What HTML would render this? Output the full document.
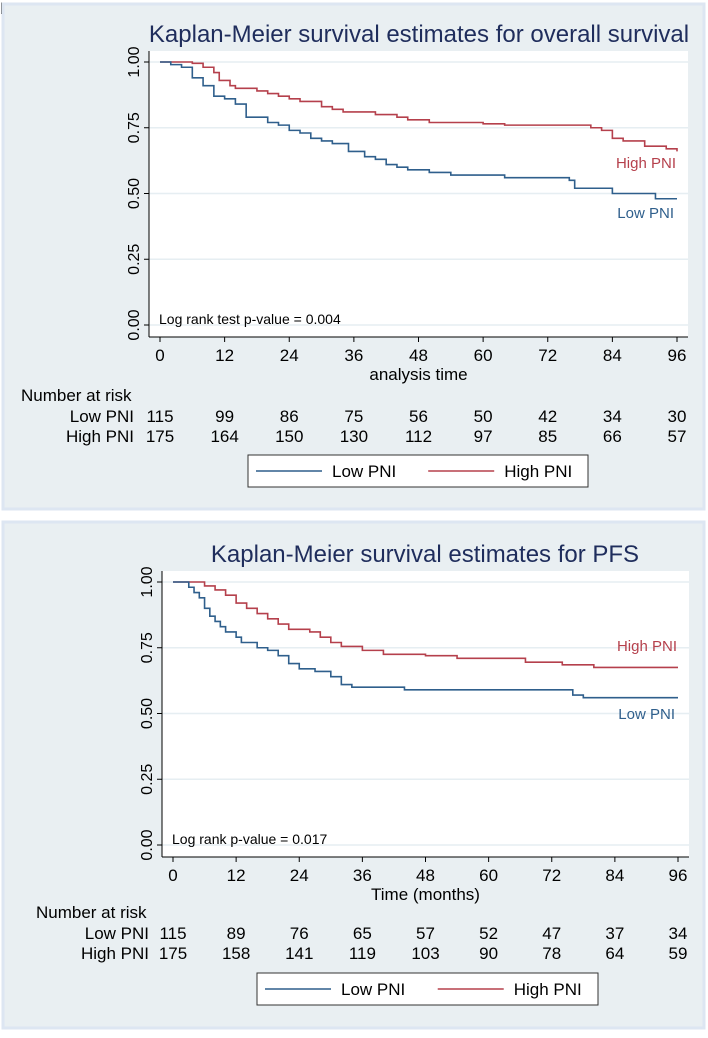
<!DOCTYPE html>
<html><head><meta charset="utf-8"><style>
body{margin:0;background:#fff;width:708px;height:1033px;overflow:hidden;font-family:"Liberation Sans",sans-serif;}
svg text{font-family:"Liberation Sans",sans-serif;}
</style></head><body>
<svg id="s" width="708" height="1033" viewBox="0 0 708 1033" xmlns="http://www.w3.org/2000/svg">
<text x="0" y="14" font-size="16" font-weight="bold" fill="#000">b</text>
</svg>
<script>
const ticksX=[0,12,24,36,48,60,72,84,96];
const ticksY=[0,0.25,0.5,0.75,1];
const osLowT=[0,2,4,6,8,10,12,14,16,20,22,24,26,28,30,32,35,38,40,42,44,46,50,54,64,76,77,84,92,96];
const osLowS=[1,0.99,0.98,0.94,0.91,0.87,0.86,0.84,0.79,0.77,0.76,0.74,0.73,0.71,0.70,0.69,0.66,0.64,0.63,0.61,0.60,0.59,0.58,0.57,0.56,0.55,0.52,0.50,0.48,0.48];
const osHighT=[0,6,8,10,11,13,14,18,20,22,24,26,30,32,34,40,44,46,50,60,64,80,82,84,86,90,94,96];
const osHighS=[1,0.995,0.98,0.96,0.93,0.91,0.90,0.89,0.88,0.87,0.86,0.85,0.83,0.82,0.81,0.80,0.79,0.78,0.77,0.765,0.76,0.75,0.74,0.71,0.70,0.68,0.67,0.66];
const pfsLowT=[0,3,4,5,6,7,8,9,10,12,13,16,18,20,22,24,27,30,32,34,44,76,78,96];
const pfsLowS=[1,0.98,0.96,0.94,0.90,0.87,0.85,0.83,0.81,0.79,0.77,0.75,0.74,0.72,0.69,0.67,0.66,0.64,0.61,0.60,0.59,0.57,0.56,0.56];
const pfsHighT=[0,6,8,10,12,14,16,18,20,22,26,28,30,32,36,40,48,54,67,74,80,96];
const pfsHighS=[1,0.985,0.97,0.95,0.92,0.90,0.88,0.86,0.84,0.82,0.81,0.79,0.77,0.755,0.74,0.725,0.72,0.71,0.695,0.685,0.675,0.675];
const osRiskLow=[115,99,86,75,56,50,42,34,30];
const osRiskHigh=[175,164,150,130,112,97,85,66,57];
const pfsRiskLow=[115,89,76,65,57,52,47,37,34];
const pfsRiskHigh=[175,158,141,119,103,90,78,64,59];
const NS="http://www.w3.org/2000/svg";
const svg=document.getElementById('s');
const BLUE="#2f5f8c",RED="#b5404c",NAVY="#1f2d5c";
function el(tag,attrs,parent){const e=document.createElementNS(NS,tag);for(const k in attrs)e.setAttribute(k,attrs[k]);(parent||svg).appendChild(e);return e;}
function txt(x,y,s,size,anchor,fill,parent){const t=el('text',{x:x,y:y,'font-size':size,'text-anchor':anchor||'start',fill:fill||'#000'},parent);t.textContent=s;return t;}
function panel(c){
  const g=el('g',{});
  
  
  const bg=el('rect',{x:c.px,y:c.py,width:c.pw,height:c.ph,fill:'#e9eff2',stroke:'#dde6f2','stroke-width':3},g);
  
  
  const t=txt(c.titleX,c.titleY,c.title,24,'middle',NAVY,g);
  
  
  const pl=el('rect',{x:c.L,y:c.T,width:c.R-c.L,height:c.B-c.T,fill:'#fff'},g);
  
  
  const xs=v=>c.x0+(c.x96-c.x0)*v/96, ys=v=>c.y0+(c.y1-c.y0)*v;
  ticksY.forEach(v=>{
    const gl=el('line',{x1:c.L,x2:c.R,y1:ys(v),y2:ys(v),stroke:'#e6eef2','stroke-width':1.5},g);
    
    
    el('line',{x1:c.L-5,x2:c.L,y1:ys(v),y2:ys(v),stroke:'#000'},g);
    const tl=txt(0,0,v.toFixed(2),16,'middle','#000',g);
    tl.setAttribute('transform','translate('+(c.L-10)+','+ys(v)+') rotate(-90)');
    
    
  });
  el('line',{x1:c.L,x2:c.L,y1:c.T,y2:c.B,stroke:'#000'},g);
  el('line',{x1:c.L,x2:c.R,y1:c.B,y2:c.B,stroke:'#000'},g);
  ticksX.forEach(v=>{
    el('line',{x1:xs(v),x2:xs(v),y1:c.B,y2:c.B+5,stroke:'#000'},g);
    const tl=txt(xs(v),c.B+24,String(v),17,'middle','#000',g);
    
    
  });
  const xt=txt((c.x0+c.x96)/2,c.B+43,c.xtitle,17,'middle','#000',g);
  
  
  function curve(T,S,col,name){
    let d='M'+xs(T[0])+','+ys(S[0]);
    for(let i=1;i<T.length;i++){d+=' H'+xs(T[i])+' V'+ys(S[i]);}
    const p=el('path',{d:d,fill:'none',stroke:col,'stroke-width':1.6},g);
    
    
  }
  curve(c.hT,c.hS,RED,'high-pni-curve');
  curve(c.lT,c.lS,BLUE,'low-pni-curve');
  const hl=txt(c.R-12,c.hLabY,'High PNI',15,'end',RED,g);
  
  
  const ll=txt(c.R-14,c.lLabY,'Low PNI',15,'end',BLUE,g);
  
  
  const pv=txt(c.L+10,c.B-13,c.pval,14,'start','#000',g);
  
  
  const nr=txt(c.riskTitleX,c.rY,'Number at risk',17,'start','#000',g);
  
  
  const r1=txt(c.riskLabR,c.rY+21,'Low PNI',17,'end','#000',g);
  
  
  const r2=txt(c.riskLabR,c.rY+41,'High PNI',17,'end','#000',g);
  
  
  ticksX.forEach((v,i)=>{
    const a=txt(xs(v),c.rY+21,String(c.rl[i]),17,'middle','#000',g);
    
    
    const b=txt(xs(v),c.rY+41,String(c.rh[i]),17,'middle','#000',g);
    
    
  });
  const lg=el('g',{},g);
  
  
  el('rect',{x:c.lgX,y:c.lgY,width:c.lgW,height:c.lgH,fill:'#fff',stroke:'#333','stroke-width':1},lg);
  const my=c.lgY+c.lgH/2;
  el('line',{x1:c.lgX+8,x2:c.lgX+74,y1:my,y2:my,stroke:BLUE,'stroke-width':1.6},lg);
  txt(c.lgX+84,my+6,'Low PNI',17,'start','#000',lg);
  el('line',{x1:c.lgX+c.lgW*0.53,x2:c.lgX+c.lgW*0.53+66,y1:my,y2:my,stroke:RED,'stroke-width':1.6},lg);
  txt(c.lgX+c.lgW*0.53+76,my+6,'High PNI',17,'start','#000',lg);
}
panel({name:'overall-survival-panel',px:3,py:4,pw:701,ph:505,title:'Kaplan-Meier survival estimates for overall survival',titleX:419,titleY:42,
  L:149,R:688,T:51,B:337,x0:160,x96:677,y0:325,y1:62,xtitle:'analysis time',
  lT:osLowT,lS:osLowS,hT:osHighT,hS:osHighS,hLabY:168,lLabY:218,pval:'Log rank test p-value = 0.004',
  riskTitleX:21,riskLabR:134,rY:401,rl:osRiskLow,rh:osRiskHigh,lgX:248,lgY:455,lgW:340,lgH:32});
panel({name:'pfs-panel',px:3,py:522,pw:701,ph:506,title:'Kaplan-Meier survival estimates for PFS',titleX:425,titleY:562,
  L:162,R:689,T:571,B:857,x0:173,x96:678,y0:845,y1:582,xtitle:'Time (months)',
  lT:pfsLowT,lS:pfsLowS,hT:pfsHighT,hS:pfsHighS,hLabY:651,lLabY:719,pval:'Log rank p-value = 0.017',
  riskTitleX:36,riskLabR:149,rY:918,rl:pfsRiskLow,rh:pfsRiskHigh,lgX:257,lgY:973,lgW:341,lgH:32});
</script>
</body></html>
